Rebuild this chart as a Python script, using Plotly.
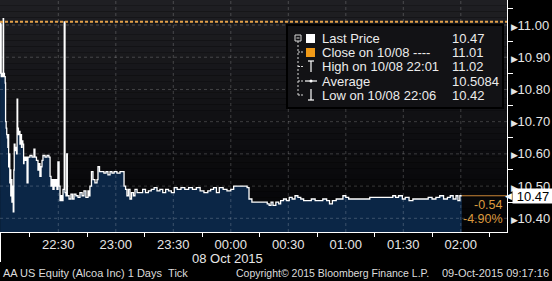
import plotly.graph_objects as go
import pandas as pd

# ---------------- data ----------------
session_start = "2015-10-08 22:00:00"
minutes = [
    -0.35, -0.2, 0.05, 0.2, 0.6, 1.0, 1.25, 1.45, 1.9, 2.3, 2.5, 2.8, 3.1, 3.4, 3.7, 3.9,
    4.1, 4.4, 4.7, 5.0, 5.2, 5.5, 5.8, 6.1, 6.5, 6.8, 7.0, 7.4, 7.8, 8.2, 8.5, 8.8, 9.2,
    9.6, 10.0, 10.4, 10.8, 11.1, 11.5, 11.9,
    12.1, 12.6, 13.1, 13.7, 14.2, 15.2, 16.3, 17.3, 17.8, 18.6, 19.4, 19.9, 20.4, 21.0,
    21.5, 22.0, 23.1, 24.1, 25.1, 25.7, 26.2, 26.7, 27.2, 27.8, 28.3, 28.8, 29.3, 29.8,
    30.4, 30.9, 31.4, 31.9, 32.45, 33.1, 33.5, 34.0, 34.4, 34.7, 35.6, 36.6, 37.4, 38.2,
    39.2, 40.3, 41.3, 42.4, 43.4, 44.4, 45.5, 46.0, 46.5, 47.3, 48.1, 49.1, 50.2, 50.7,
    51.5, 52.8, 53.8, 54.9, 55.9, 57.0, 58.0, 59.1, 60.6, 62.2, 63.8, 64.3, 65.1, 65.8,
    66.6, 67.4, 68.2, 69.2, 70.0, 71.1,
    72.5, 74.0, 75.5, 77.0, 78.5, 80.0, 81.5, 83.0, 84.5, 86.0, 87.5, 89.0, 90.5, 92.0,
    94.0, 96.0, 98.0, 100.0, 102.0, 104.0, 106.0, 108.0, 109.5, 111.0, 112.5, 114.0,
    116.0, 118.0, 120.0, 121.5, 124.0, 126.5, 128.5, 129.5, 131.0,
    133.0, 135.0, 137.0, 139.0, 140.0, 141.0, 142.0, 143.5, 145.0, 146.0, 147.5, 149.0,
    150.5, 152.0, 153.5, 155.0, 156.5, 158.0, 160.0, 162.0, 164.0, 166.0, 168.0, 170.0,
    171.5, 173.0, 175.0, 177.0, 178.5, 180.0, 181.5, 184.0, 187.0, 190.0, 192.5, 195.0,
    197.5, 200.0, 202.5, 204.5, 206.0, 207.5, 209.5, 211.0, 213.0, 215.0, 217.0, 219.0,
    221.0, 223.0, 225.0, 227.0, 229.0, 231.0, 233.0, 234.5, 236.0, 237.5, 238.5, 239.5,
    240.5,
]
prices = [
    10.85, 11.01, 11.00, 10.84, 10.85, 10.84, 11.02, 10.85, 10.84, 10.82, 10.70, 10.68,
    10.66, 10.65, 10.62, 10.66, 10.56, 10.60, 10.51, 10.55, 10.47, 10.52, 10.45, 10.50,
    10.42, 10.55, 10.63, 10.61, 10.62, 10.60, 10.77, 10.68, 10.66, 10.67, 10.63, 10.66,
    10.62, 10.64, 10.63, 10.57,
    10.59, 10.58, 10.59, 10.51, 10.59, 10.595, 10.59, 10.615, 10.59, 10.58, 10.55, 10.57,
    10.53, 10.56, 10.58, 10.595, 10.59, 10.595, 10.59, 10.53, 10.50, 10.52, 10.49, 10.52,
    10.50, 10.52, 10.49, 10.575, 10.50, 10.455, 10.47, 10.455, 10.49, 11.01, 10.48, 10.47,
    10.60, 10.47, 10.46, 10.475, 10.46, 10.475, 10.47, 10.465, 10.48, 10.47, 10.485,
    10.465, 10.485, 10.47, 10.50, 10.545, 10.52, 10.51, 10.52, 10.56, 10.545, 10.545,
    10.54, 10.545, 10.535, 10.545, 10.54, 10.545, 10.54, 10.545, 10.545, 10.50, 10.49,
    10.47, 10.49, 10.46, 10.48, 10.47, 10.49, 10.48,
    10.48, 10.49, 10.48, 10.485, 10.49, 10.495, 10.485, 10.49, 10.48, 10.49, 10.485,
    10.48, 10.495, 10.49, 10.495, 10.49, 10.495, 10.49, 10.495, 10.485, 10.48, 10.485,
    10.49, 10.495, 10.48, 10.495, 10.49, 10.485, 10.49, 10.50, 10.50, 10.50, 10.495,
    10.46, 10.45,
    10.45, 10.45, 10.45, 10.445, 10.44, 10.45, 10.44, 10.45, 10.445, 10.455, 10.46,
    10.455, 10.465, 10.46, 10.47, 10.465, 10.46, 10.455, 10.455, 10.46, 10.455, 10.455,
    10.46, 10.455, 10.445, 10.455, 10.46, 10.46, 10.47, 10.465, 10.46, 10.46, 10.46,
    10.46, 10.465, 10.465, 10.465, 10.465, 10.465, 10.47, 10.465, 10.47, 10.46, 10.465,
    10.455, 10.46, 10.46, 10.46, 10.46, 10.465, 10.46, 10.465, 10.47, 10.46, 10.465,
    10.47, 10.46, 10.47, 10.455, 10.47, 10.47,
]
close_price = 11.01
last_price = 10.47
net_change = "-0.54"
pct_change = "-4.90%"

legend_names = ["Last Price", "Close on 10/08 ----", "High on 10/08 22:01", "Average",
                "Low on 10/08 22:06"]
legend_values = ["10.47", "11.01", "11.02", "10.5084", "10.42"]

x_ticks = ["2015-10-08 22:30", "2015-10-08 23:00", "2015-10-08 23:30", "2015-10-09 00:00",
           "2015-10-09 00:30", "2015-10-09 01:00", "2015-10-09 01:30", "2015-10-09 02:00"]
x_ticktext = ["22:30", "23:00", "23:30", "00:00", "00:30", "01:00", "01:30", "02:00"]
x_minor = ["2015-10-08 22:15", "2015-10-08 22:45", "2015-10-08 23:15", "2015-10-08 23:45",
           "2015-10-09 00:15", "2015-10-09 00:45", "2015-10-09 01:15", "2015-10-09 01:45",
           "2015-10-09 02:15"]
y_ticks = [10.40, 10.50, 10.60, 10.70, 10.80, 10.90, 11.00]
y_ticktext = ["10.40", "10.50", "10.60", "10.70", "10.80", "10.90", "11.00"]
y_minor = [10.45, 10.55, 10.65, 10.75, 10.85, 10.95, 11.05]
x_range = ["2015-10-08 21:59:35", "2015-10-09 02:24:06"]
y_range = [10.3575, 11.0776]
date_label = "08 Oct 2015"
footer_left = "AA US Equity (Alcoa Inc) 1 Days&nbsp;&nbsp;Tick"
footer_mid = "Copyright\u00a9 2015 Bloomberg Finance L.P."
footer_right = "09-Oct-2015 09:17:16"

# ---------------- figure ----------------
times = pd.Timestamp(session_start) + pd.to_timedelta(minutes, unit="m")
FONT = "Liberation Sans, Arial, sans-serif"
W, H = 507.0, 232.0   # plot area in px


def px(x):
    return x / W


def py(y):
    return 1 - y / H


fig = go.Figure()
fig.add_trace(go.Scatter(
    x=times, y=prices, mode="lines",
    line=dict(color="white", width=1.3, shape="hv"),
    fill="tozeroy", fillcolor="#0b2646", hoverinfo="skip", showlegend=False,
))

shapes = []
# background gradient
n = 40
for i in range(n):
    f = i / (n - 1)
    c = [int(round(a + (b - a) * f)) for a, b in zip((31, 31, 35), (3, 3, 5))]
    shapes.append(dict(type="rect", xref="x domain", yref="y domain",
                       x0=0, x1=1, y0=1 - (i + 1) / n, y1=1 - i / n,
                       fillcolor=f"rgb({c[0]},{c[1]},{c[2]})", line=dict(width=0),
                       layer="below"))
# gridlines drawn above the area fill
for xv in x_ticks:
    shapes.append(dict(type="line", xref="x", yref="y domain", x0=xv, x1=xv, y0=0, y1=1,
                       line=dict(color="rgba(255,255,255,0.2)", width=1, dash="3px,3px")))
for yv in y_ticks:
    shapes.append(dict(type="line", xref="x domain", yref="y", x0=0, x1=1, y0=yv, y1=yv,
                       line=dict(color="rgba(255,255,255,0.2)", width=1, dash="3px,3px")))
# close line
shapes.append(dict(type="line", xref="x domain", yref="y", x0=0, x1=1,
                   y0=close_price, y1=close_price,
                   line=dict(color="#e4a24a", width=2, dash="3px,2px")))
# last price extension line
shapes.append(dict(type="line", xref="x", yref="y", x0=times[-1], x1=x_range[1],
                   y0=last_price, y1=last_price, line=dict(color="#c98534", width=1)))
# legend box
shapes.append(dict(type="rect", xref="paper", yref="paper", x0=px(287), x1=px(503),
                   y0=py(108), y1=py(25), fillcolor="#121215",
                   line=dict(color="#000000", width=2)))
# legend tree
tree = dict(color="#d8d8d8", width=1)
shapes.append(dict(type="rect", xref="paper", yref="paper", x0=px(295), x1=px(301),
                   y0=py(41), y1=py(35), line=tree))
shapes.append(dict(type="line", xref="paper", yref="paper", x0=px(296.5), x1=px(299.5),
                   y0=py(38), y1=py(38), line=tree))
shapes.append(dict(type="line", xref="paper", yref="paper", x0=px(298), x1=px(298),
                   y0=py(95), y1=py(41), line=dict(color="#d8d8d8", width=1, dash="2px,2px")))
for ry in [52, 66.5, 81, 95]:
    shapes.append(dict(type="line", xref="paper", yref="paper", x0=px(298), x1=px(303),
                       y0=py(ry), y1=py(ry), line=dict(color="#d8d8d8", width=1, dash="2px,1px")))
# legend icons
shapes.append(dict(type="rect", xref="paper", yref="paper", x0=px(306), x1=px(315),
                   y0=py(43), y1=py(34), fillcolor="white", line=dict(width=0)))
shapes.append(dict(type="rect", xref="paper", yref="paper", x0=px(306), x1=px(315),
                   y0=py(57), y1=py(48), fillcolor="#f09a18", line=dict(width=0)))
icon = dict(color="white", width=1.2)
shapes.append(dict(type="line", xref="paper", yref="paper", x0=px(311), x1=px(311),
                   y0=py(72), y1=py(61), line=icon))
shapes.append(dict(type="line", xref="paper", yref="paper", x0=px(308), x1=px(314),
                   y0=py(61), y1=py(61), line=icon))
shapes.append(dict(type="line", xref="paper", yref="paper", x0=px(305), x1=px(317),
                   y0=py(81), y1=py(81), line=icon))
shapes.append(dict(type="circle", xref="paper", yref="paper", x0=px(309.5), x1=px(312.5),
                   y0=py(82.5), y1=py(79.5), fillcolor="white", line=dict(width=0)))
shapes.append(dict(type="line", xref="paper", yref="paper", x0=px(311), x1=px(311),
                   y0=py(100), y1=py(89), line=icon))
shapes.append(dict(type="line", xref="paper", yref="paper", x0=px(308), x1=px(314),
                   y0=py(100), y1=py(100), line=icon))
# left bracket under the axis
shapes.append(dict(type="line", xref="paper", yref="paper", x0=px(0.5), x1=px(0.5),
                   y0=py(262), y1=py(232), line=dict(color="white", width=1)))

annotations = []
rows = [38.3, 52.3, 66.7, 81, 95]
for name, val, ry in zip(legend_names, legend_values, rows):
    annotations.append(dict(xref="paper", yref="paper", x=px(320), y=py(ry), text=name,
                            xanchor="left", yanchor="middle", showarrow=False,
                            font=dict(family=FONT, size=13, color="#ececec")))
    annotations.append(dict(xref="paper", yref="paper", x=px(450), y=py(ry), text=val,
                            xanchor="left", yanchor="middle", showarrow=False,
                            font=dict(family=FONT, size=13, color="#ececec")))
# last price tag
annotations.append(dict(xref="paper", yref="y", x=px(512), y=last_price, text="10.47",
                        xanchor="left", yanchor="middle", showarrow=False,
                        bgcolor="white", width=38, height=12, borderpad=1,
                        font=dict(family=FONT, size=13, color="black")))
annotations.append(dict(xref="paper", yref="y", x=px(514), y=last_price,
                        text="\u25c0", xanchor="right", yanchor="middle", showarrow=False,
                        font=dict(family="DejaVu Sans", size=9, color="white")))
annotations.append(dict(xref="paper", yref="paper", x=px(505), y=py(205), text=net_change,
                        xanchor="right", yanchor="middle", showarrow=False,
                        font=dict(family=FONT, size=12.5, color="#dc9a3e")))
annotations.append(dict(xref="paper", yref="paper", x=px(505), y=py(219), text=pct_change,
                        xanchor="right", yanchor="middle", showarrow=False,
                        font=dict(family=FONT, size=12.5, color="#dc9a3e")))
# date label and footer
annotations.append(dict(xref="paper", yref="paper", x=px(227), y=py(258.5), text=date_label,
                        xanchor="center", yanchor="middle", showarrow=False,
                        font=dict(family=FONT, size=13, color="#e6e6e6")))
for txt, xx, anc, fs in [(footer_left, 1, "left", 11), (footer_mid, 234, "left", 10.5),
                         (footer_right, 551, "right", 11)]:
    annotations.append(dict(xref="paper", yref="paper", x=px(xx), y=py(273), text=txt,
                            xanchor=anc, yanchor="middle", showarrow=False,
                            font=dict(family=FONT, size=fs, color="#dcdcdc")))

tri = "<span style='font-size:9px'>\u25b6</span>"
fig.update_layout(
    width=552, height=281,
    margin=dict(l=0, r=45, t=0, b=49),
    paper_bgcolor="black", plot_bgcolor="rgba(0,0,0,0)",
    showlegend=False,
    shapes=shapes, annotations=annotations,
    xaxis=dict(type="date", range=x_range, tickmode="array", tickvals=x_ticks,
               ticktext=x_ticktext, ticks="", showgrid=False, zeroline=False,
               showline=True, linecolor="white", linewidth=1,
               tickfont=dict(family=FONT, size=13, color="#e6e6e6"),
               minor=dict(tickmode="array", tickvals=x_minor, ticks="outside",
                          ticklen=4, tickcolor="white", tickwidth=1, showgrid=False)),
    yaxis=dict(side="right", range=y_range, tickmode="array", tickvals=y_ticks,
               ticktext=[tri + t for t in y_ticktext], ticks="", showgrid=False,
               zeroline=False, showline=True, linecolor="white", linewidth=1,
               tickfont=dict(family=FONT, size=13, color="#e6e6e6"),
               minor=dict(tickmode="array", tickvals=y_minor, ticks="outside",
                          ticklen=5, tickcolor="white", tickwidth=1, showgrid=False)),
)

fig.write_html("out.html")
